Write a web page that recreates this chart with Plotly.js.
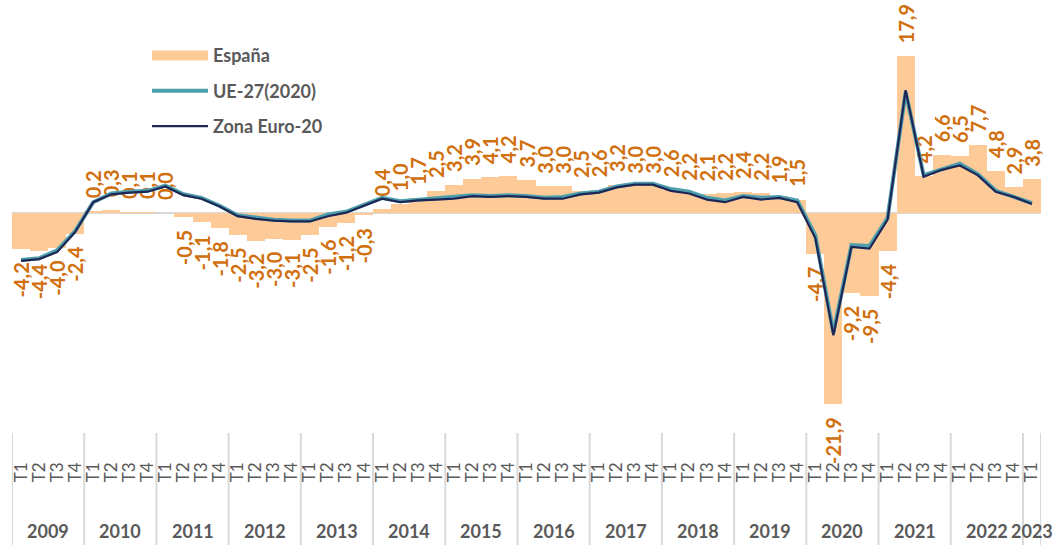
<!DOCTYPE html>
<html>
<head>
<meta charset="utf-8">
<script src="https://cdn.plot.ly/plotly-3.0.1.min.js"></script>
<style>
  html, body { margin: 0; padding: 0; background: #ffffff; }
  #chart { width: 1054px; height: 545px; }
</style>
</head>
<body>
<div id="chart"></div>
<script>
// Years and quarters (2009 T1 - 2023 T1)
const years = ['2009','2010','2011','2012','2013','2014','2015','2016','2017','2018','2019','2020','2021','2022','2023'];
const quartersPerYear = [4,4,4,4,4,4,4,4,4,4,4,4,4,4,1];
const quarterNames = ['T1','T2','T3','T4'];

// España (% variación interanual)
const espana = [
  -4.2, -4.4, -4.0, -2.4,
   0.2,  0.3,  0.1,  0.1,
   0.0, -0.5, -1.1, -1.8,
  -2.5, -3.2, -3.0, -3.1,
  -2.5, -1.6, -1.2, -0.3,
   0.4,  1.0,  1.7,  2.5,
   3.2,  3.9,  4.1,  4.2,
   3.7,  3.0,  3.0,  2.5,
   2.6,  3.2,  3.0,  3.0,
   2.6,  2.2,  2.1,  2.2,
   2.4,  2.2,  1.9,  1.5,
  -4.7, -21.9, -9.2, -9.5,
  -4.4, 17.9,  4.2,  6.6,
   6.5,  7.7,  4.8,  2.9,
   3.8
];

// UE-27 (2020)
const ue27 = [
  -5.4, -5.2, -4.3, -2.1,
   1.2,  2.2,  2.4,  2.5,
   3.1,  2.1,  1.7,  0.8,
  -0.3, -0.6, -0.8, -0.9,
  -0.9, -0.2,  0.1,  0.9,
   1.7,  1.3,  1.5,  1.6,
   1.8,  2.0,  1.9,  2.0,
   1.9,  1.7,  1.8,  2.2,
   2.4,  3.0,  3.3,  3.3,
   2.7,  2.4,  1.7,  1.4,
   1.9,  1.7,  1.8,  1.4,
  -2.6, -13.7, -3.7, -3.8,
  -0.6, 13.8,  4.3,  5.0,
   5.6,  4.4,  2.5,  1.8,
   1.1
];

// Zona Euro-20
const zonaEuro = [
  -5.5, -5.3, -4.5, -2.2,
   1.2,  2.1,  2.3,  2.4,
   3.0,  2.0,  1.6,  0.7,
  -0.4, -0.7, -0.9, -1.0,
  -1.0, -0.4,  0.0,  0.8,
   1.6,  1.2,  1.4,  1.5,
   1.6,  1.9,  1.8,  1.9,
   1.8,  1.6,  1.6,  2.1,
   2.3,  2.9,  3.2,  3.2,
   2.5,  2.2,  1.5,  1.2,
   1.8,  1.5,  1.7,  1.2,
  -2.9, -14.0, -3.9, -4.1,
  -0.8, 14.0,  4.1,  4.9,
   5.4,  4.3,  2.4,  1.8,
   1.0
];

// Category positions (one per quarter) and their labels
const xIdx = [], quarterLabels = [];
const yearCenters = [], yearBounds = [-0.5];
let k = 0;
years.forEach((y, i) => {
  const start = k;
  for (let q = 0; q < quartersPerYear[i]; q++) {
    xIdx.push(k);
    quarterLabels.push(quarterNames[q]);
    k++;
  }
  yearCenters.push((start + k - 1) / 2);
  yearBounds.push(k - 0.5);
});

const fmt = v => v.toFixed(1).replace('.', ',');
const pad = '\u00a0\u00a0';
const barText = espana.map(v => v >= 0 ? pad + fmt(v) : fmt(v) + pad);

const FONT = 'Lato, "Open Sans", sans-serif';
const GREY = '#595959';
const BAR = '#FDCA98';

const traces = [
  {
    type: 'bar', name: 'España', x: xIdx, y: espana, width: 1,
    marker: { color: BAR },
    text: barText, textposition: 'outside', textangle: -90,
    constraintext: 'none', cliponaxis: false,
    textfont: { family: FONT, size: 20, color: '#D0700F', weight: 'bold' },
    showlegend: false, legendgroup: 'a', hoverinfo: 'y'
  },
  { // legend key for the bars (wide swatch like the original)
    type: 'scatter', mode: 'lines', name: 'España', x: [null], y: [null],
    line: { color: BAR, width: 13 }, legendgroup: 'a', hoverinfo: 'skip'
  },
  {
    type: 'scatter', mode: 'lines', name: 'UE-27(2020)', x: xIdx, y: ue27,
    line: { color: '#4E9FAE', width: 4 },
    legendgroup: 'b', cliponaxis: false
  },
  {
    type: 'scatter', mode: 'lines', name: 'Zona Euro-20', x: xIdx, y: zonaEuro,
    line: { color: '#1E2656', width: 2.2 },
    legendgroup: 'c', cliponaxis: false
  }
];

const plotH = 545 - 20 - 115;
const pxToPaper = px => -(px - 430) / plotH;   // below the plot area

const shapes = yearBounds.map(b => ({
  type: 'line', xref: 'x', yref: 'paper',
  x0: b, x1: b, y0: pxToPaper(433), y1: pxToPaper(548),
  line: { color: '#D9D9D9', width: 2 }, layer: 'below'
}));

const annotations = years.map((y, i) => ({
  x: yearCenters[i], xref: 'x', y: pxToPaper(531), yref: 'paper',
  text: '<b>' + y + '</b>', showarrow: false,
  xanchor: 'center', yanchor: 'middle',
  font: { family: FONT, size: 18, color: GREY }
}));

const layout = {
  width: 1054, height: 545,
  margin: { l: 12, r: 13, t: 20, b: 115 },
  paper_bgcolor: '#ffffff', plot_bgcolor: '#ffffff',
  font: { family: FONT, color: GREY },
  bargap: 0,
  showlegend: true,
  legend: {
    x: 0.1312, xanchor: 'left', y: 0.958, yanchor: 'top',
    traceorder: 'grouped', tracegroupgap: 9, itemwidth: 56,
    font: { family: FONT, size: 18, color: GREY, weight: 'bold' },
    bgcolor: 'rgba(0,0,0,0)'
  },
  xaxis: {
    type: 'linear', range: [-0.5, xIdx.length - 0.5],
    tickmode: 'array', tickvals: xIdx, ticktext: quarterLabels,
    tickangle: -90, ticklabelstandoff: 28,
    tickfont: { family: FONT, size: 17, color: GREY },
    ticks: '', showline: false, showgrid: false, zeroline: false
  },
  yaxis: {
    range: [-24.83, 22.02],
    showticklabels: false, showgrid: false, ticks: '', showline: false,
    zeroline: true, zerolinecolor: '#D9D9D9', zerolinewidth: 2
  },
  shapes: shapes,
  annotations: annotations
};

Plotly.newPlot('chart', traces, layout, { displayModeBar: false, staticPlot: true });
</script>
</body>
</html>
